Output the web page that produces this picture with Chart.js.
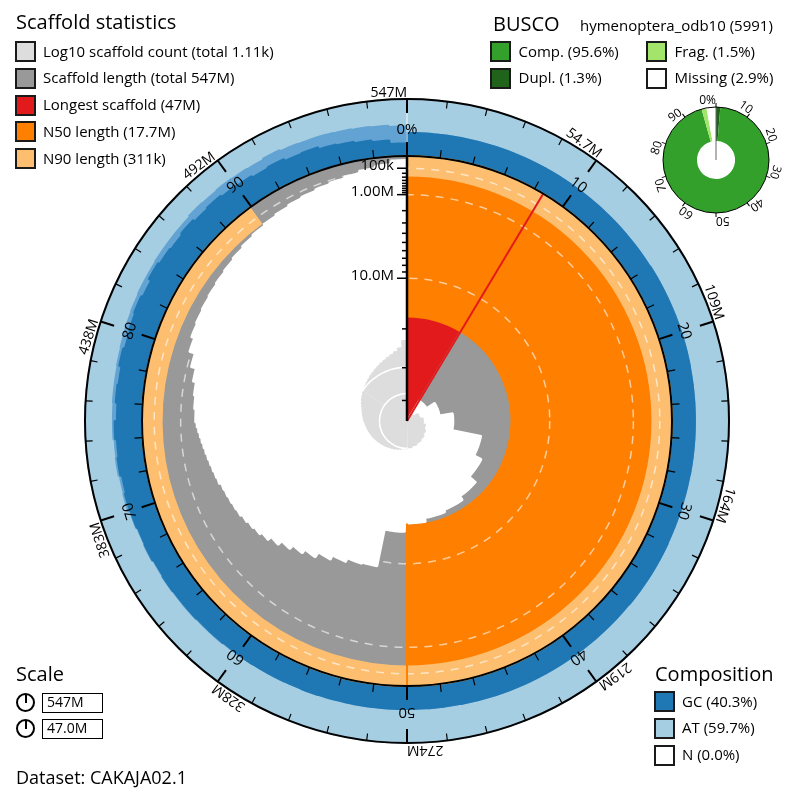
<!DOCTYPE html>
<html>
<head>
<meta charset="utf-8">
<title>Snail plot CAKAJA02.1</title>
<script src="https://cdn.jsdelivr.net/npm/chart.js@4.4.1/dist/chart.umd.min.js"></script>
<style>
  body { margin: 0; background: #fff; font-family: "Open Sans", sans-serif; color: #000; }
  #page { position: relative; width: 796px; height: 802px; overflow: hidden; }
  #page canvas { position: absolute; }
  .txt { position: absolute; white-space: nowrap; line-height: 1; }
  .sq { position: absolute; box-sizing: border-box; width: 21px; height: 21px; border: 2px solid #1a1a1a; }
</style>
</head>
<body>
<div id="page">
  <canvas id="snail" width="796" height="802" style="left:0;top:0"></canvas>
  <canvas id="busco" width="160" height="160" style="left:636px;top:80px"></canvas>
</div>
<script>
// values
const assemblyMb = 547;
const longestMb = 47;
const n50Mb = 17.7;
const n90Mb = 0.311;

// largest scaffolds, in order (Mb)
const topScaffoldsMb = [47, 39, 36, 32, 24, 22, 20, 19, 18.5, 17.7,
  15.9, 9.1, 8.9, 8.3, 7.6, 6.8, 6.2, 5.6, 5.0, 4.5,
  4.2, 4.0, 3.8, 3.6, 3.5, 3.4, 3.3, 3.2, 3.0, 2.9,
  2.8, 2.7, 2.6, 2.5, 2.4, 2.3, 2.2, 2.1, 2.0];
// rest of the assembly in equal-length bins: typical scaffold length per bin (Mb)
const tailLengthMb = [1.9, 1.8, 1.7, 1.5, 1.2, 0.9, 0.75, 0.7, 0.66, 0.62,
  0.58, 0.53, 0.47, 0.41, 0.36, 0.31, 0.27, 0.23, 0.2, 0.17,
  0.14, 0.11, 0.07, 0.04, 0.011];

// GC range per 1% of the assembly (%)
const gcLow = [
  40.4, 40.4, 40.4, 40.4, 40.4, 40.4, 40.4, 40.4, 40.4, 40.1,
  40.1, 40.1, 40.1, 40.1, 40.1, 40.1, 40.6, 40.6, 40.6, 40.6,
  40.6, 40.6, 40.2, 40.2, 40.2, 40.2, 40.2, 40.2, 39.9, 39.9,
  39.9, 39.9, 40.5, 40.5, 40.5, 40.5, 40.0, 40.0, 40.0, 40.0,
  40.3, 40.3, 40.3, 40.4, 40.4, 40.4, 40.4, 40.2, 40.2, 40.2,
  40.5, 40.5, 40.5, 40.1, 40.1, 40.4, 40.0, 40.3, 40.2, 40.6,
  40, 41, 41, 42, 42, 43, 42, 44, 43, 45,
  46, 44, 47, 45, 48, 44, 47, 45, 49, 46,
  48, 50, 47, 52, 49, 47, 50, 46, 48, 45,
  44, 41, 43, 39, 40, 36, 34, 31, 28, 22];
const gcHigh = [
  40.4, 40.4, 40.4, 40.4, 40.4, 40.4, 40.4, 40.4, 40.4, 40.1,
  40.1, 40.1, 40.1, 40.1, 40.1, 40.1, 40.6, 40.6, 40.6, 40.6,
  40.6, 40.6, 40.2, 40.2, 40.2, 40.2, 40.2, 40.2, 39.9, 39.9,
  39.9, 39.9, 40.5, 40.5, 40.5, 40.5, 40.0, 40.0, 40.0, 40.0,
  40.3, 40.3, 40.3, 40.4, 40.4, 40.4, 40.4, 40.2, 40.2, 40.2,
  40.5, 40.5, 40.5, 40.1, 40.1, 40.4, 40.0, 40.3, 40.2, 40.6,
  41, 42, 42, 43, 43, 44, 43, 45, 44, 46,
  49, 48, 50, 49, 51, 51, 52, 52, 53, 54,
  55, 56, 57, 57, 58, 58, 58, 60, 59, 60,
  59, 58, 60, 58, 57, 57, 56, 55, 54, 52];

const lengthTicksMb = [0.1, 0.2, 0.3, 0.4, 0.5, 0.6, 0.7, 0.8, 0.9,
  1, 2, 3, 4, 5, 6, 7, 8, 9, 10, 20, 30, 40];
const lengthTickLabels = { 0.1: '100k', 1: '1.00M', 10: '10.0M' };
const outerTickLabels = ['547M', '54.7M', '109M', '164M', '219M', '274M', '328M', '383M', '438M', '492M'];
const innerTickLabels = ['0%', '10', '20', '30', '40', '50', '60', '70', '80', '90'];

const buscoValues = [1.3, 94.3, 1.5, 2.9]; // dupl, single, frag, missing
const buscoTickLabels = ['0%', '10', '20', '30', '40', '50', '60', '70', '80', '90'];

const C = {
  count: '#dddddd', length: '#999999', longest: '#e31a1c', n50: '#ff7f00', n90: '#fdbf6f',
  gc: '#1f78b4', at: '#a6cee3', gcRange: '#62a3d3', n: '#ffffff',
  comp: '#33a02c', dupl: '#20641c', frag: '#a3e46b', missing: '#ffffff'
};

// radial layout: 1 = outer edge of composition ring
const RIN = 265 / 322;
const rLen = mb => RIN * (1 - Math.sqrt(mb / longestMb));
const rGC = gc => RIN + (1 - RIN) * gc / 100;
const rCount = n => 0.082 * Math.log10(n);

// spiral segments
const segAngle = [], segLen = [], segCount = [];
let running = 0;
topScaffoldsMb.forEach(mb => {
  running += 1;
  segAngle.push(mb / assemblyMb * 360); segLen.push(mb); segCount.push(running);
});
const binMb = (assemblyMb - topScaffoldsMb.reduce((a, b) => a + b, 0)) / tailLengthMb.length;
tailLengthMb.forEach(mb => {
  running += binMb / mb;
  segAngle.push(binMb / assemblyMb * 360); segLen.push(mb); segCount.push(running);
});

function bands(parts) {
  // parts: [percent of circle, radial value, colour]
  return {
    data: parts.map(p => p[1]),
    angle: parts.map(p => p[0] * 3.6),
    backgroundColor: parts.map(p => p[2]),
    borderColor: parts.map(p => p[2]),
    borderWidth: 2
  };
}
function spiral(values, angles, color) {
  return { data: values, angle: angles, backgroundColor: color, borderColor: color, borderWidth: 2 };
}

const longestPct = longestMb / assemblyMb * 100;
const pctBins = gcLow.map(() => 3.6);
const layers = [
  bands([[100, 1, C.at]]),
  spiral(gcHigh.map(rGC), pctBins, C.gcRange),
  spiral(gcLow.map(rGC), pctBins, C.gc),
  bands([[90, RIN, C.n90], [10, RIN, C.length]]),
  bands([[50, rLen(n90Mb), C.n50], [40, rLen(n90Mb), C.length], [10, 0, C.length]]),
  bands([[longestPct, rLen(n50Mb), C.longest], [50 - longestPct, rLen(n50Mb), C.length], [50, 0, C.length]]),
  spiral(segLen.map(rLen), segAngle, '#ffffff'),
  spiral(segCount.map(rCount), segAngle, C.count)
];
const gw = 0.8 / 322;
[100, 10].forEach(level => {
  const rg = rCount(level);
  layers.push(spiral(segCount.map(c => rCount(c) > rg ? rg + gw : 0), segAngle, '#ffffff'));
  layers.push(spiral(segCount.map(c => rCount(c) > rg ? rg - gw : 0), segAngle, C.count));
});

const snailDecor = {
  id: 'snailDecor',
  afterDatasetsDraw(chart) {
    const s = chart.scales.r, ctx = chart.ctx;
    const cx = s.xCenter, cy = s.yCenter;
    const R = v => s.getDistanceFromCenterForValue(v);
    const rin = R(RIN), rout = R(1);
    const at = (pct, r) => {
      const a = pct / 100 * 2 * Math.PI;
      return [cx + r * Math.sin(a), cy - r * Math.cos(a)];
    };
    const line = (p, q, color, w) => {
      ctx.beginPath(); ctx.moveTo(p[0], p[1]); ctx.lineTo(q[0], q[1]);
      ctx.strokeStyle = color; ctx.lineWidth = w; ctx.stroke();
    };
    ctx.save();
    ctx.setLineDash([8, 7]);
    [0.1, 1, 10].forEach(mb => {
      ctx.beginPath(); ctx.arc(cx, cy, R(rLen(mb)), 0, 2 * Math.PI);
      ctx.strokeStyle = 'rgba(255,255,255,0.6)'; ctx.lineWidth = 1.5; ctx.stroke();
    });
    ctx.setLineDash([]);
    line(at(longestPct, 0), at(longestPct, rin), C.longest, 2);
    line(at(50, R(rLen(n50Mb))), at(50, rin), C.n50, 2);
    line(at(0, rin), at(0, rout), 'rgba(255,255,255,0.6)', 1.5);
    [rin, rout].forEach(r => {
      ctx.beginPath(); ctx.arc(cx, cy, r, 0, 2 * Math.PI);
      ctx.strokeStyle = '#000'; ctx.lineWidth = 2; ctx.stroke();
    });
    for (let k = 0; k < 50; k++) {
      const pct = k * 2, major = k % 5 === 0;
      line(at(pct, rout), at(pct, rout - (major ? 14 : 7)), '#000', major ? 2 : 1.2);
      line(at(pct, rin), at(pct, rin + (major ? 14 : 8)), '#000', major ? 2 : 1.2);
    }
    ctx.fillStyle = '#000';
    for (let k = 0; k < 10; k++) {
      ctx.save();
      ctx.translate(cx, cy); ctx.rotate(k * 36 * Math.PI / 180);
      ctx.textBaseline = 'alphabetic';
      ctx.font = '14px "Open Sans"'; ctx.textAlign = 'right';
      ctx.fillText(outerTickLabels[k], 0, -(rout + 2.5));
      ctx.font = '15px "Open Sans"'; ctx.textAlign = 'center';
      ctx.fillText(innerTickLabels[k], 0, -(rin + 22));
      ctx.restore();
    }
    line([cx, cy], [cx, cy - rin], '#000', 2.5);
    ctx.font = '15px "Open Sans"'; ctx.textAlign = 'right'; ctx.textBaseline = 'alphabetic';
    lengthTicksMb.forEach(mb => {
      const y = cy - R(rLen(mb));
      const lab = lengthTickLabels[mb];
      line([cx, y], [cx - (lab ? 10 : 5), y], '#000', 1.5);
      if (lab) ctx.fillText(lab, cx - 13, y + 1.5);
    });
    ctx.restore();
  }
};

new Chart(document.getElementById('snail'), {
  type: 'polarArea',
  data: { labels: [], datasets: layers.slice().reverse() },
  options: {
    responsive: false,
    animation: false,
    events: [],
    layout: { padding: { left: 85, right: 67, top: 99, bottom: 59 } },
    plugins: { legend: { display: false }, tooltip: { enabled: false } },
    scales: {
      r: {
        min: 0, max: 1, startAngle: 0,
        ticks: { display: false },
        grid: { display: false },
        angleLines: { display: false },
        pointLabels: { display: false }
      }
    }
  },
  plugins: [snailDecor]
});

const buscoDecor = {
  id: 'buscoDecor',
  afterDatasetsDraw(chart) {
    const arc = chart.getDatasetMeta(0).data[0];
    const cx = arc.x, cy = arc.y, r = arc.outerRadius;
    const ctx = chart.ctx;
    ctx.save();
    ctx.strokeStyle = '#666'; ctx.lineWidth = 1;
    ctx.beginPath(); ctx.moveTo(cx, cy); ctx.lineTo(cx, cy - r); ctx.stroke();
    ctx.strokeStyle = '#000';
    ctx.beginPath(); ctx.arc(cx, cy, r, 0, 2 * Math.PI); ctx.stroke();
    ctx.fillStyle = '#000'; ctx.font = '12px "Open Sans"';
    ctx.textAlign = 'right'; ctx.textBaseline = 'alphabetic';
    buscoTickLabels.forEach((lab, k) => {
      ctx.save(); ctx.translate(cx, cy); ctx.rotate(k * 36 * Math.PI / 180);
      ctx.beginPath(); ctx.moveTo(0, -r); ctx.lineTo(0, -r - 4); ctx.stroke();
      ctx.fillText(lab, 0, -r - 3.5);
      ctx.restore();
    });
    ctx.restore();
  }
};

new Chart(document.getElementById('busco'), {
  type: 'doughnut',
  data: {
    labels: ['Dupl.', 'Comp.', 'Frag.', 'Missing'],
    datasets: [{
      data: buscoValues,
      backgroundColor: [C.dupl, C.comp, C.frag, C.missing],
      borderWidth: 0, hoverOffset: 0
    }]
  },
  options: {
    responsive: false, animation: false, events: [],
    radius: 53, cutout: '36%',
    plugins: { legend: { display: false }, tooltip: { enabled: false } }
  },
  plugins: [buscoDecor]
});

// text panels
const page = document.getElementById('page');
function text(str, x, capTop, size) {
  const d = document.createElement('div');
  d.className = 'txt'; d.textContent = str;
  d.style.left = x + 'px'; d.style.top = (capTop - 0.174 * size) + 'px'; d.style.fontSize = size + 'px';
  page.appendChild(d);
  return d;
}
function swatch(x, cy, color, label) {
  const b = document.createElement('div');
  b.className = 'sq'; b.style.left = x + 'px'; b.style.top = (cy - 10.5) + 'px'; b.style.background = color;
  page.appendChild(b);
  text(label, x + 28.5, cy - 0.357 * 15, 15);
}

text('Scaffold statistics', 16, 15, 20);
const statsLegend = [
  [C.count, 'Log10 scaffold count (total 1.11k)'],
  [C.length, 'Scaffold length (total 547M)'],
  [C.longest, 'Longest scaffold (47M)'],
  [C.n50, 'N50 length (17.7M)'],
  [C.n90, 'N90 length (311k)']
];
statsLegend.forEach((it, i) => swatch(14.5, 51.7 + i * 26.7, it[0], it[1]));

text('BUSCO', 493, 17, 20);
text('hymenoptera_odb10 (5991)', 580, 20.6, 15);
swatch(490, 51.7, C.comp, 'Comp. (95.6%)');
swatch(490, 78.4, C.dupl, 'Dupl. (1.3%)');
swatch(646, 51.7, C.frag, 'Frag. (1.5%)');
swatch(646, 78.4, C.missing, 'Missing (2.9%)');

text('Composition', 655, 667.3, 20);
swatch(653.5, 701.7, C.gc, 'GC (40.3%)');
swatch(653.5, 728.3, C.at, 'AT (59.7%)');
swatch(653.5, 755, C.n, 'N (0.0%)');

text('Scale', 16, 667.3, 20);
[[702.5, '547M'], [728.5, '47.0M']].forEach(([cy, lab]) => {
  const ring = document.createElement('div');
  Object.assign(ring.style, { position: 'absolute', left: '16px', top: (cy - 9.5) + 'px', width: '19px', height: '19px',
    boxSizing: 'border-box', border: '2px solid #000', borderRadius: '50%' });
  page.appendChild(ring);
  const hand = document.createElement('div');
  Object.assign(hand.style, { position: 'absolute', left: '24.5px', top: (cy - 8.5) + 'px', width: '2px', height: '9px', background: '#000' });
  page.appendChild(hand);
  const box = document.createElement('div');
  Object.assign(box.style, { position: 'absolute', left: '41.7px', top: (cy - 10) + 'px', width: '61.6px', height: '20px',
    boxSizing: 'border-box', border: '1.5px solid #000' });
  page.appendChild(box);
  text(lab, 47, cy - 5, 14);
});

text('Dataset: CAKAJA02.1', 16, 771, 18);
</script>
</body>
</html>
